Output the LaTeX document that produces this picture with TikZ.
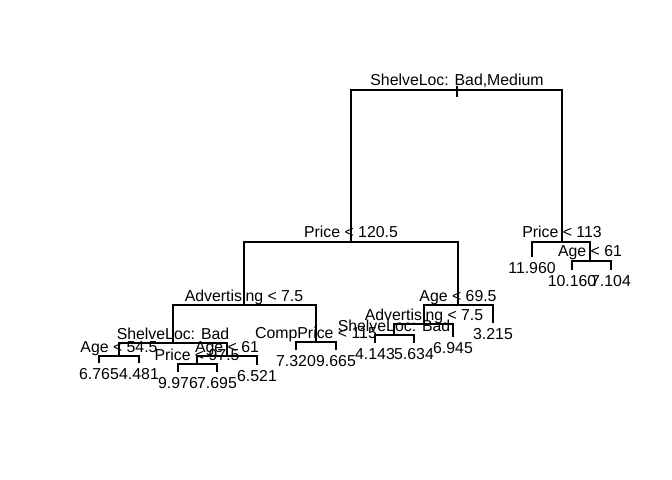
\documentclass[tikz,border=0pt]{standalone}
\usepackage{fontspec}
\setmainfont{Liberation Sans}
\usetikzlibrary{positioning}
\tikzstyle{split} = [anchor=base, inner sep=0pt, yshift=4bp, font=\fontsize{15.9}{19}\selectfont]
\tikzstyle{leaf} = [anchor=base, inner sep=0pt, yshift=-16.5bp, font=\fontsize{15.9}{19}\selectfont]
\tikzstyle{branch} = [line width=1.2bp, draw=black]

\begin{document}
\begin{tikzpicture}[x=1bp, y=-1bp]
        \useasboundingbox (0,0) rectangle (672,480);
        % split points
        \coordinate (root) at (457,90);
        \coordinate (pr120) at (351,242);
        \coordinate (pr113) at (562,242);
        \coordinate (adv1) at (244,305);
        \coordinate (age69) at (458,305);
        \coordinate (age61r) at (590,261);
        \coordinate (adv2) at (424,324);
        \coordinate (shelvR) at (394,335);
        \coordinate (shelvL) at (173,343);
        \coordinate (comp) at (316,342);
        \coordinate (age54) at (119,356);
        \coordinate (age61l) at (227,356);
        \coordinate (pr97) at (197,364);
        \coordinate (stemtop) at (457,86);
        \coordinate (stembot) at (457,97);
        % leaf ends
        \coordinate (l1) at (99,363);
        \coordinate (l2) at (139,363);
        \coordinate (l3) at (178,372);
        \coordinate (l4) at (217,372);
        \coordinate (l5) at (257,365);
        \coordinate (l6) at (296,350);
        \coordinate (l7) at (336,350);
        \coordinate (l8) at (375,343);
        \coordinate (l9) at (414,343);
        \coordinate (l10) at (453,337);
        \coordinate (l11) at (493,323);
        \coordinate (l12) at (532,257);
        \coordinate (l13) at (572,270);
        \coordinate (l14) at (611,270);

        \draw[branch] (stemtop) -- (stembot);
        \draw[branch] (pr120) |- (root) -| (pr113);
        \draw[branch] (adv1) |- (pr120) -| (age69);
        \draw[branch] (l12) |- (pr113) -| (age61r);
        \draw[branch] (l13) |- (age61r) -| (l14);
        \draw[branch] (shelvL) |- (adv1) -| (comp);
        \draw[branch] (adv2) |- (age69) -| (l11);
        \draw[branch] (shelvR) |- (adv2) -| (l10);
        \draw[branch] (l8) |- (shelvR) -| (l9);
        \draw[branch] (age54) |- (shelvL) -| (age61l);
        \draw[branch] (l6) |- (comp) -| (l7);
        \draw[branch] (l1) |- (age54) -| (l2);
        \draw[branch] (pr97) |- (age61l) -| (l5);
        \draw[branch] (l3) |- (pr97) -| (l4);

        \node (Troot) [split] at (root) {ShelveLoc: Bad,Medium};
        \node (Tpr120) [split] at (pr120) {Price < 120.5};
        \node (Tpr113) [split] at (pr113) {Price < 113};
        \node (Tage61r) [split] at (age61r) {Age < 61};
        \node (Tadv1) [split] at (adv1) {Advertising < 7.5};
        \node (Tage69) [split] at (age69) {Age < 69.5};
        \node (Tadv2) [split] at (adv2) {Advertising < 7.5};
        \node (TshelvR) [split] at (shelvR) {ShelveLoc: Bad};
        \node (TshelvL) [split] at (shelvL) {ShelveLoc: Bad};
        \node (Tcomp) [split] at (comp) {CompPrice < 115};
        \node (Tage54) [split] at (age54) {Age < 54.5};
        \node (Tage61l) [split] at (age61l) {Age < 61};
        \node (Tpr97) [split] at (pr97) {Price < 97.5};

        \node (v1) [leaf] at (l1) {6.765};
        \node (v2) [leaf] at (l2) {4.481};
        \node (v3) [leaf] at (l3) {9.976};
        \node (v4) [leaf] at (l4) {7.695};
        \node (v5) [leaf] at (l5) {6.521};
        \node (v6) [leaf] at (l6) {7.320};
        \node (v7) [leaf] at (l7) {9.665};
        \node (v8) [leaf] at (l8) {4.143};
        \node (v9) [leaf] at (l9) {5.634};
        \node (v10) [leaf] at (l10) {6.945};
        \node (v11) [leaf] at (l11) {3.215};
        \node (v12) [leaf] at (l12) {11.960};
        \node (v13) [leaf] at (l13) {10.160};
        \node (v14) [leaf] at (l14) {7.104};

    \end{tikzpicture}
\end{document}
